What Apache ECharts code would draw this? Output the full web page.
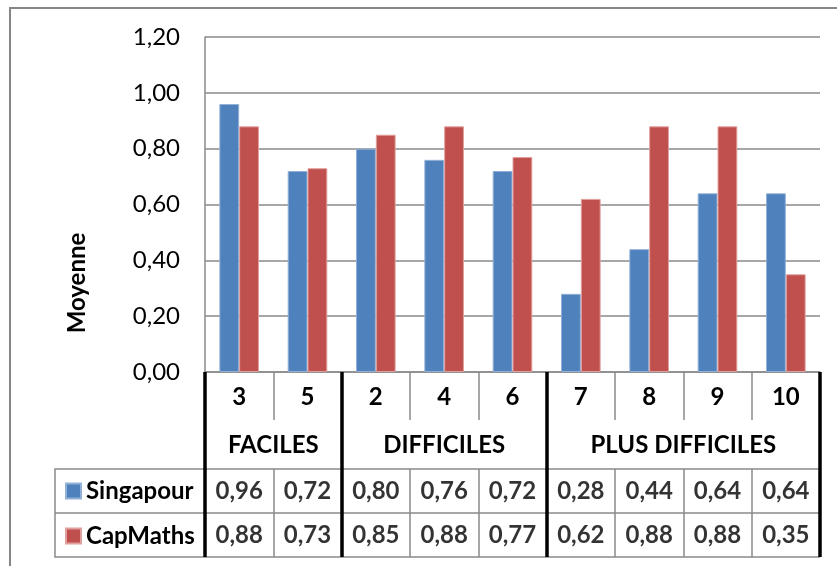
<!DOCTYPE html>
<html>
<head>
<meta charset="utf-8">
<script src="https://cdn.jsdelivr.net/npm/echarts@6/dist/echarts.min.js"></script>
<style>
html,body{margin:0;padding:0;background:#fff;}
#chart{width:837px;height:566px;}
</style>
</head>
<body>
<div id="chart"></div>
<script>
const categories = ['3', '5', '2', '4', '6', '7', '8', '9', '10'];
const groupNames = ['FACILES', 'DIFFICILES', 'PLUS DIFFICILES'];
const groupSizes = [2, 3, 4];
const seriesNames = ['Singapour', 'CapMaths'];
const singapour = [0.96, 0.72, 0.80, 0.76, 0.72, 0.28, 0.44, 0.64, 0.64];
const capmaths = [0.88, 0.73, 0.85, 0.88, 0.77, 0.62, 0.88, 0.88, 0.35];
const yTicks = [0, 0.2, 0.4, 0.6, 0.8, 1.0, 1.2];
const axisTitle = 'Moyenne';

const FONT = 'Lato';
const fmt = v => Number(v).toFixed(2).replace('.', ',');

// half-band positions for group labels and group separators
const nHalf = categories.length * 2 + 1;
const groupAxisData = new Array(nHalf).fill('');
const sepIdx = [0];
let acc = 0;
groupSizes.forEach((s, i) => {
  groupAxisData[acc * 2 + s] = groupNames[i];
  acc += s;
  sepIdx.push(acc * 2);
});

const tableData = [];
[singapour, capmaths].forEach((arr, r) => {
  arr.forEach((v, i) => tableData.push([i, r, v]));
});

const chart = echarts.init(document.getElementById('chart'), null, {renderer: 'canvas'});
const GRAY = '#8a8a8a';

chart.setOption({
  animation: false,
  backgroundColor: '#fff',
  grid: [
    {left: 205, right: 17, top: 37, bottom: 194},
    {left: 205, right: 17, top: 469, bottom: 9}
  ],
  legend: {
    data: seriesNames,
    orient: 'vertical',
    left: 65,
    top: 479,
    padding: 0,
    itemWidth: 15,
    itemHeight: 15,
    itemGap: 21,
    icon: 'rect',
    selectedMode: false,
    textStyle: {fontFamily: FONT, fontWeight: 'bold', fontSize: 24, color: '#000', lineHeight: 24}
  },
  xAxis: [
    {
      type: 'category', gridIndex: 0, data: categories, position: 'bottom',
      axisLine: {show: true, lineStyle: {color: GRAY, width: 1.5}},
      axisTick: {show: true, interval: 0, length: 48, lineStyle: {color: GRAY, width: 1.5}},
      axisLabel: {interval: 0, margin: 13, fontFamily: FONT, fontWeight: 'bold', fontSize: 24, color: '#000'},
      splitLine: {show: false}
    },
    {
      type: 'category', gridIndex: 0, data: groupAxisData, boundaryGap: false, position: 'bottom',
      axisLine: {show: false},
      axisTick: {show: true, interval: (i) => sepIdx.indexOf(i) >= 0, length: 185, lineStyle: {color: '#000', width: 3.5}},
      axisLabel: {interval: 0, margin: 61, fontFamily: FONT, fontWeight: 'bold', fontSize: 24, color: '#000'},
      splitLine: {show: false}
    },
    {
      type: 'category', gridIndex: 1, data: categories,
      axisLine: {show: false}, axisTick: {show: false}, axisLabel: {show: false},
      splitLine: {show: true, interval: 0, lineStyle: {color: GRAY, width: 1.5}}
    }
  ],
  yAxis: [
    {
      type: 'value', gridIndex: 0, min: yTicks[0], max: yTicks[yTicks.length - 1], interval: 0.2,
      axisLine: {show: true, lineStyle: {color: GRAY, width: 1.5}},
      axisTick: {show: false},
      axisLabel: {margin: 25, fontFamily: FONT, fontSize: 24, color: '#000', formatter: v => fmt(v)},
      splitLine: {show: true, lineStyle: {color: GRAY, width: 1.5}}
    },
    {
      type: 'category', gridIndex: 1, data: seriesNames, inverse: true,
      axisLine: {show: false}, axisTick: {show: false}, axisLabel: {show: false},
      splitLine: {show: true, interval: 0, lineStyle: {color: GRAY, width: 1.5}}
    }
  ],
  series: [
    {
      name: seriesNames[0], type: 'bar', xAxisIndex: 0, yAxisIndex: 0, data: singapour,
      barGap: '0%', barCategoryGap: '42%',
      itemStyle: {color: '#4F81BD', borderColor: '#93b1d8', borderWidth: 1}
    },
    {
      name: seriesNames[1], type: 'bar', xAxisIndex: 0, yAxisIndex: 0, data: capmaths,
      barGap: '0%', barCategoryGap: '42%',
      itemStyle: {color: '#C0504D', borderColor: '#e0a09e', borderWidth: 1}
    },
    {
      type: 'scatter', xAxisIndex: 2, yAxisIndex: 1, data: tableData,
      symbolSize: 0, silent: true,
      label: {show: true, position: 'inside', formatter: p => fmt(p.value[2]),
        fontFamily: FONT, fontWeight: 'bold', fontSize: 24, color: '#000'}
    }
  ],
  graphic: [
    {type: 'rect', shape: {x: 10, y: 8, width: 900, height: 700}, style: {fill: 'none', stroke: '#868686', lineWidth: 2}, silent: true},
    {type: 'rect', shape: {x: 55, y: 469, width: 150, height: 88}, style: {fill: 'none', stroke: GRAY, lineWidth: 1.5}, silent: true},
    {type: 'line', shape: {x1: 55, y1: 513, x2: 205, y2: 513}, style: {stroke: GRAY, lineWidth: 1.5}, silent: true},
    {type: 'text', x: 77, y: 283, rotation: Math.PI / 2, silent: true,
      style: {text: axisTitle, fontFamily: FONT, fontWeight: 'bold', fontSize: 24, fill: '#000', align: 'center', verticalAlign: 'middle'}}
  ]
});
</script>
</body>
</html>
